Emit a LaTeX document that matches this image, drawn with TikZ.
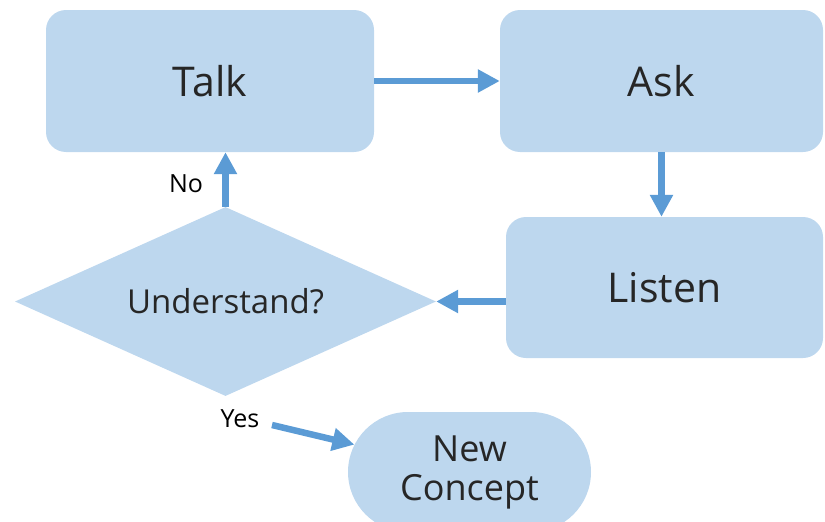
\documentclass[tikz,border=0pt]{standalone}
\usepackage{fontspec}
\setmainfont{Open Sans}
\usetikzlibrary{arrows.meta,shapes.geometric,shapes.misc}
\definecolor{boxfill}{HTML}{BDD7EE}
\definecolor{arrowc}{HTML}{5B9BD5}
\definecolor{txt}{HTML}{262626}
\begin{document}
\begin{tikzpicture}[x=1pt,y=-1pt,
  stepbox/.style={rectangle, rounded corners=20pt, fill=boxfill, draw=none, text=txt, font=\fontsize{41}{48}\selectfont, inner sep=0pt},
  decision/.style={diamond, shape aspect=2.23, fill=boxfill, draw=none, text=txt, font=\fontsize{33}{40}\selectfont, inner sep=0pt},
  terminal/.style={rounded rectangle, fill=boxfill, draw=none, text=txt, font=\fontsize{36}{39}\selectfont, align=center, inner sep=0pt},
  lbl/.style={text=black, font=\fontsize{25}{30}\selectfont, inner sep=0pt},
  flow/.style={draw=arrowc, line width=6.5pt, -{Triangle[length=22pt,width=22pt]}}]
\useasboundingbox (0,0) rectangle (825,522);
\clip (0,0) rectangle (825,522);
\node[stepbox, minimum width=328pt, minimum height=142pt] (talk) at (210,81) {Talk};
\node[stepbox, minimum width=323pt, minimum height=142pt] (ask) at (661.5,81) {Ask};
\node[stepbox, minimum width=317pt, minimum height=141pt] (listen) at (664.5,287.5) {Listen};
\node[decision, minimum width=421pt, minimum height=189pt] (dec) at (225.5,301.5) {Understand?};
\node[terminal, minimum width=243pt, minimum height=120pt] (nc) at (469.5,472) {New\\Concept};
\node[lbl] (no) at (186,184) {No};
\node[lbl] (yes) at (240,419) {Yes};
\coordinate (ys) at (272,425);
\draw[flow] (talk.east) -- (ask.west);
\draw[flow] (ask.south) -- (ask.south |- listen.north);
\draw[flow] (listen.west |- dec.east) -- (dec.east);
\draw[flow] (dec.north) -- (dec.north |- talk.south);
\draw[flow] (ys) -- (nc);
\end{tikzpicture}
\end{document}
